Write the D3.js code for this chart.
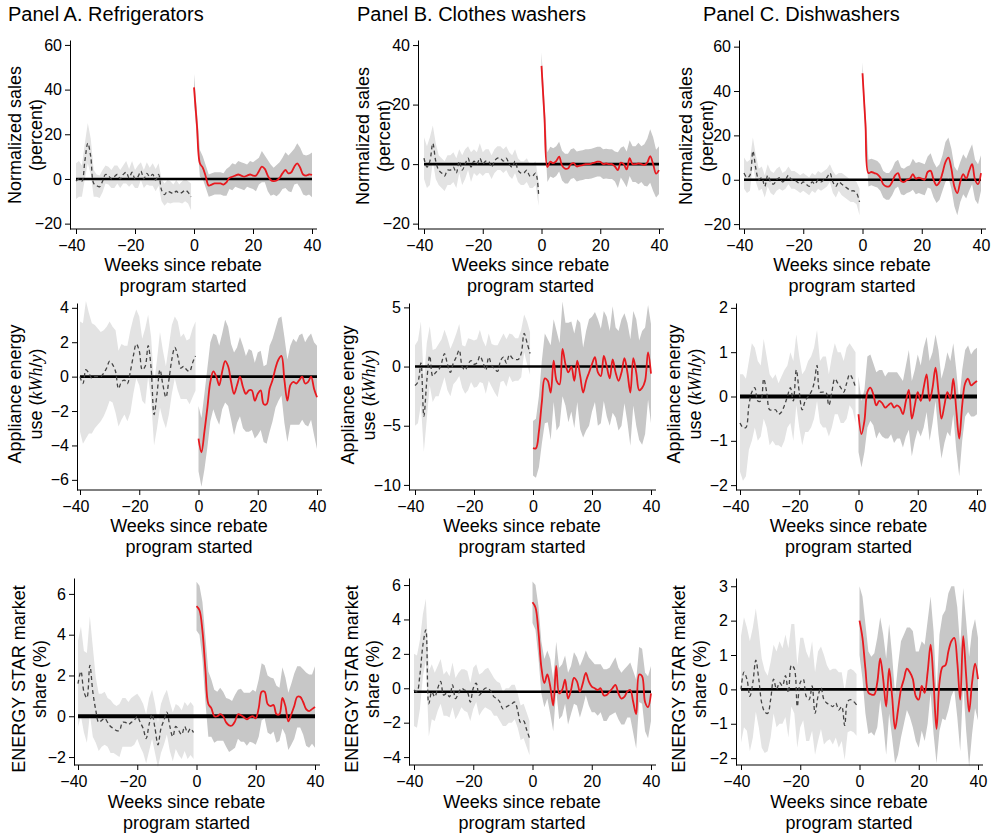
<!DOCTYPE html>
<html><head><meta charset="utf-8">
<script src="https://cdn.jsdelivr.net/npm/d3@7"></script>
<style>
body{margin:0;background:#fff;}
svg{display:block;font-family:"Liberation Sans",Arial,Helvetica,sans-serif;}
</style></head><body>
<svg id="chart" width="992" height="834"></svg>
<script>
// ---------------- DATA ----------------
const panelTitles = ["Panel A. Refrigerators", "Panel B. Clothes washers", "Panel C. Dishwashers"];
const yTitles = [["Normalized sales", "(percent)"], ["Appliance energy", "use"], ["ENERGY STAR market", "share (%)"]];
const xTitle = ["Weeks since rebate", "program started"];
const xTicks = [-40, -20, 0, 20, 40];
const preWeeks = [-40,-39,-38,-37,-36,-35,-34,-33,-32,-31,-30,-29,-28,-27,-26,-25,-24,-23,-22,-21,-20,-19,-18,-17,-16,-15,-14,-13,-12,-11,-10,-9,-8,-7,-6,-5,-4,-3,-2,-1];
const postWeeks = [0,1,2,3,4,5,6,7,8,9,10,11,12,13,14,15,16,17,18,19,20,21,22,23,24,25,26,27,28,29,30,31,32,33,34,35,36,37,38,39,40];

// Row 1: normalized sales (percent)
const salesTicksA = [-20, 0, 20, 40, 60];
const salesTicksB = [-20, 0, 20, 40];
const salesTicksC = [-20, 0, 20, 40, 60];
const salesA_preMean = [-1,0,-1,8,16,10,-2,-3,-3.5,-1, 2,1.5,0,1,2,0,2,3,0.5,3, 0,1,3.5,0,2.5,1,2,-0.5,2,-5, -7,-5.5,-6,-6.5,-5.5,-6.5,-6,-5,-6,-8];
const salesA_preHalf = [8,8,7,8,9,8,6,5,5,5, 4,4,4,5,4,4,4,5,4,5, 4,5,4,4,5,4,5,5,5,5, 5,5,5,4,5,4,5,5,5,6];
const salesA_postMean = [41,24,7,5,1,-3,-2.5,-2,-2,-2, -2.5,-1.5,0.5,1,1.5,2,1.5,1,1.5,2, 1.5,1.5,3.5,5.5,4.5,1.5,-0.5,-1,-0.7,0.5, 2.5,4,2.5,3,5.5,7,5,2,1.5,2,1.8];
const salesA_postHalf = [6,6,6,5,5,5,5,5,5,5, 5,6,5,6,5,6,6,6,5,6, 6,7,6,7,6,7,7,6,7,7, 7,8,8,9,8,9,9,9,9,9,10];
const salesB_preMean = [2,-1,1,7,1,-2,-3,-4,-2,-2, -1,-3,1,-2,0,2,-1,1,0,2, 0,1,1,-1,1,2,2,1,2,0, -1,1,-2,-3,-3,-2,-4,-4,-3,-10];
const salesB_preHalf = [7,7,8,6,6,5,5,5,5,5, 5,5,4,5,5,4,5,4,4,5, 4,4,4,4,4,4,4,4,4,4, 4,4,4,4,4,4,4,4,4,4];
const salesB_postMean = [33,16,-1,0.8,0.3,1,2.5,-0.5,-1.5,-1.5, 0,0.3,-0.8,-0.5,-0.3,0,0,0.2,0.5,0.8, 0.8,0,0.2,0,0,-0.8,-2,0.5,0,-1.8, 2,0,0,0.2,0,-0.3,0.5,2.7,0,-3.2,-2];
const salesB_postHalf = [4.5,5,5,5,5,5,5,5,5,5, 5,5,5,5,5,5,5,5,5,5, 5,5,5,5,5,5,6,5,6,6, 6,6,6,7,6,7,8,9,9,8,8];
const salesC_preMean = [3,1,2,13,5,0,1,-3,2,-1, -2,0,1,-1,0,2,0,0,-1,-2, -1,-2,-3,-1,-2,0,-1,0,1,3, -1,-3,-1,-2,-3,-4,-5,-5,-6,-10];
const salesC_preHalf = [7,7,7,6,6,5,5,5,5,5, 5,5,5,4,4,4,4,4,4,4, 4,4,4,4,4,4,4,4,4,4, 5,5,4,5,5,5,5,5,5,6];
const salesC_postMean = [48,25,3,3.5,3,2.5,1,-2,-3,-3, -1,2,3,-0.5,-1,0,0.5,2.5,0.5,1, 0.5,0,3.5,4,0,-2.5,-1,3,8,10, 5,-3,-6,-1,2.5,0.5,4,7,0,-2,3];
const salesC_postHalf = [5,6,6,6,6,6,6,6,6,6, 6,6,6,6,6,6,6,7,7,7, 7,7,7,8,8,8,8,8,9,9, 9,9,10,9,9,9,9,9,9,9,8];

// Row 2: appliance energy use (kWh/y)
const energyTicksA = [-6, -4, -2, 0, 2, 4];
const energyTicksB = [-10, -5, 0, 5];
const energyTicksC = [-2, -1, 0, 1, 2];
const energyA_preMean = [0,-0.4,0.4,0.2,-0.1,0,0,0,0.2,0.5, 0.9,0.7,0.3,-0.7,-0.3,-0.2,-0.4,0.3,1.2,1.9, 1.5,0.4,0.6,1.8,0.5,-2.2,-1,0.4,-0.5,-1.2, -0.2,1,1.7,1.2,0.5,0.6,0.4,0.3,0.8,1.2];
const energyA_preHalf = [3.2,3.5,4,3.5,3.2,3,2.8,2.6,2.5,2.4, 2.3,2.2,2.4,2.2,2.2,2.0,2.2,2.4,2.2,2.0, 2.0,1.8,2.2,1.8,1.8,1.8,2.0,2.2,2.0,1.8, 2.0,2.0,1.8,2.0,1.8,1.9,1.7,1.9,2.0,2.0];
const energyA_postMean = [-3.6,-4.4,-3.2,-1.8,-0.3,0.3,0,-0.5,0.3,0.9, 0.6,-0.3,-1,-0.5,0,-0.6,-1,-0.8,-0.8,-1.4, -1,-0.8,-1.6,-1.6,-0.7,-0.2,0.5,1.0,1.2,-0.2, -1.4,-0.5,-0.3,-0.4,-0.2,0,-0.4,-0.3,0,-0.7,-1.2];
const energyA_postHalf = [1.9,2.0,2.2,2.3,2.3,2.2,2.4,2.3,2.2,2.4, 2.3,2.2,2.4,2.2,2.3,2.4,2.2,2.4,2.3,2.2, 2.4,2.3,2.2,2.3,2.5,2.4,2.3,2.4,2.3,2.5, 2.4,2.3,2.5,2.4,2.6,2.5,2.4,2.6,2.5,2.7,3.0];
const energyB_preMean = [-1.6,-1.3,0.3,-4.2,-1.2,0.9,-0.8,-0.5,-0.3,0.3, 1.1,0.2,-0.5,0.3,0.8,1.4,0,-0.3,0.2,0.5, 0.2,0.3,0.9,0.4,-0.3,0.8,0.1,-0.2,-0.4,0.5, 0.8,0.3,1.0,0.7,0.6,0.6,1.1,2.8,2.0,1.1];
const energyB_preHalf = [3.4,3.5,3.5,3,3.2,2.5,2.2,2.0,2.2,2.0, 2.0,2.2,2.0,1.8,2.0,2.2,1.8,2.0,2.2,1.8, 2.0,2.0,2.2,1.8,2.0,2.0,1.8,2.0,2.2,1.8, 2.0,2.0,1.8,2.0,1.8,1.8,2.0,1.6,1.8,1.8];
const energyB_postMean = [-6.9,-6.9,-5.5,-3,-1,-1.2,-2.2,0.5,-1.2,-1.5, 1.5,0.2,-0.5,0,-1.2,0.5,-0.8,-2.2,-1.2,-0.5, 0.2,0.8,-0.5,-0.8,0.9,0,-1,0.6,-0.5,-1.2, -0.5,0.7,-0.5,-2.2,0.7,-0.5,-2.0,-1.8,-1.2,1.2,-0.6];
const energyB_postHalf = [2.3,2.5,3,3.5,3.8,3.5,4,3.5,4.2,3.5, 4,3.5,4.2,3.8,4,3.5,4.5,3.8,4.2,4.5, 4,3.8,4.5,4,3.8,4.2,4,4.5,3.8,4.2, 4.5,3.8,4.2,4.5,4,4.5,4.2,4.8,4.5,4,4.2];
const energyC_preMean = [-0.6,-0.7,-0.7,-0.2,0.1,0.2,-0.1,-0.1,0.4,0.1, -0.3,-0.3,-0.3,-0.4,-0.35,-0.2,0,0.2,-0.1,0.6, 0.1,-0.3,-0.1,0,0.1,0.3,0.7,0.1,0.1,0.1, -0.2,0.1,0.4,0.3,0.2,0.1,0.3,0.5,0.4,0.2];
const energyC_preHalf = [1.1,1.2,1.1,1.0,1.1,0.9,0.9,0.8,0.9,0.8, 0.8,0.7,0.8,0.7,0.8,0.8,0.7,0.8,0.9,0.8, 0.8,0.8,0.7,0.8,0.8,0.8,0.8,0.7,0.8,0.8, 0.7,0.8,0.8,0.7,0.8,0.7,0.8,0.7,0.7,0.8];
const energyC_postMean = [-0.4,-0.85,-0.55,0.1,0.2,0.05,-0.2,-0.1,-0.15,-0.25, -0.2,-0.15,-0.25,-0.2,-0.25,-0.4,-0.1,0.15,-0.5,-0.2, 0.1,-0.1,0.2,0.5,-0.1,0.2,0.65,0.1,-0.5,-0.2, 0.1,-0.05,0.4,-0.3,-0.95,-0.2,0.3,0.4,0.25,0.3,0.35];
const energyC_postHalf = [0.85,0.75,0.7,0.8,0.75,0.7,0.75,0.7,0.75,0.7, 0.75,0.7,0.8,0.75,0.7,0.75,0.8,0.9,0.85,0.8, 0.85,0.8,0.9,0.85,0.9,0.8,0.75,0.95,0.9,0.85, 0.9,0.85,0.8,0.9,0.85,0.8,0.75,0.75,0.7,0.75,0.75];

// Row 3: ENERGY STAR market share (%)
const shareTicksA = [-2, 0, 2, 4, 6];
const shareTicksB = [-4, -2, 0, 2, 4, 6];
const shareTicksC = [-2, -1, 0, 1, 2, 3];
const shareA_preMean = [1.6,2.2,1.2,0.9,2.5,1.2,0.3,-0.3,-0.2,-0.1, -0.3,-0.5,-0.6,-0.7,-0.7,-0.3,-0.3,-0.4,-0.3,-0.2, 0,-0.3,-0.6,-1.1,-0.4,0.1,-0.6,-1.4,-0.6,-0.2, 0.2,-0.5,-1.0,-0.5,-0.7,-0.9,-0.5,-0.8,-0.6,-0.8];
const shareA_preHalf = [2.1,2.2,2.0,2.2,2.4,2.2,1.6,1.4,1.3,1.3, 1.2,1.3,1.2,1.2,1.3,1.2,1.2,1.1,1.2,1.2, 1.1,1.2,1.2,1.2,1.3,1.2,1.2,1.1,1.2,1.2, 1.1,1.2,1.2,1.1,1.2,1.2,1.2,1.3,1.3,1.3];
const shareA_postMean = [5.4,5.2,4.2,2.3,0.6,0.4,0,0,0.1,0, -0.3,-0.45,-0.45,-0.25,0.1,0.05,-0.05,-0.15,-0.05,0, -0.1,0.4,1.2,1.2,0.6,0.5,0.55,0.1,0.1,0.9, 0.5,-0.25,0.1,0.5,0.95,0.95,0.7,0.35,0.25,0.35,0.45];
const shareA_postHalf = [1.2,1.2,1.4,1.6,1.6,1.4,1.3,1.2,1.3,1.2, 1.2,1.3,1.2,1.3,1.2,1.3,1.2,1.3,1.2,1.3, 1.3,1.4,1.4,1.3,1.4,1.4,1.3,1.4,1.3,1.5, 1.4,1.4,1.5,1.6,1.5,1.5,1.6,1.8,1.8,1.7,2.0];
const shareB_preMean = [-0.1,-0.2,0.8,2.5,3.4,-0.9,-0.2,-0.5,0,0.4, -0.4,-0.3,-0.5,0.2,-0.6,-0.3,0,-0.1,-0.2,-0.8, 0,0.3,-0.4,-0.2,0,0,-0.2,-0.5,-0.6,-0.8, -1.2,-1.1,-1.0,-0.9,-0.8,-1.3,-2.0,-1.9,-2.4,-2.9];
const shareB_preHalf = [2.1,2.1,2.0,1.8,1.8,1.9,1.6,1.4,1.3,1.3, 1.2,1.3,1.2,1.3,1.2,1.2,1.1,1.2,1.2,1.1, 1.2,1.1,1.2,1.1,1.1,1.2,1.1,1.1,1.0,1.1, 1.0,1.1,1.0,1.1,1.0,1.0,1.0,1.0,1.0,1.0];
const shareB_postMean = [5.0,4.7,3.3,1.2,0.3,0.8,0.1,-1.0,1.3,-0.3, -0.1,0.5,-0.6,-0.1,0.6,0.4,-0.2,0.3,0.9,0.4, 0.1,0,-0.1,0,-0.4,-0.4,-0.2,0,0.2,-0.3, -0.6,-0.5,-0.2,-0.1,-0.8,-1.5,0.8,0.7,-0.8,-1.1,-0.3];
const shareB_postHalf = [1.2,1.3,1.5,1.5,1.4,1.4,1.6,1.5,1.4,1.5, 1.5,1.4,1.5,1.4,1.5,1.4,1.5,1.4,1.3,1.4, 1.5,1.4,1.5,1.4,1.5,1.5,1.4,1.5,1.6,1.5, 1.5,1.6,1.5,1.6,1.8,2.0,1.6,1.6,1.7,1.8,1.6];
const shareC_preMean = [0,0.5,0.3,-0.2,0.2,0.85,0.3,-0.4,-0.65,-0.7, -0.3,0.3,0,0.2,0.1,0.4,-0.1,0.7,0.6,-0.5, 0.2,0.3,-0.2,-0.3,0.1,-0.7,-0.2,0.05,-0.3,-0.4, -0.45,-0.5,-0.4,-0.6,-0.5,-1.05,-0.35,-0.3,-0.35,-0.45];
const shareC_preHalf = [1.55,1.6,1.5,1.6,1.6,1.5,1.4,1.3,1.2,1.1, 1.1,1.0,1.1,1.2,1.1,1.2,1.3,1.2,1.3,1.2, 1.3,1.2,1.3,1.2,1.3,1.2,1.3,1.2,1.3,1.1, 1.0,1.1,1.0,1.1,1.0,1.0,0.9,0.9,0.9,0.9];
const shareC_postMean = [2.0,1.5,0.6,-0.1,-0.15,-0.15,0.2,0.9,0.3,-0.5, 0.6,-0.2,-1.15,-0.6,0,0.3,0.6,0.5,0.3,-0.2, -0.3,0.1,-0.1,0.5,1.3,0.2,-1.15,0.2,0.65,0.7, 1.1,1.4,1.5,0.8,-0.3,1.55,0.4,-0.65,0.2,0.75,0.3];
const shareC_postHalf = [1.0,1.2,1.3,1.2,1.1,1.2,1.3,1.2,1.3,1.4, 1.3,1.2,1.0,1.3,1.4,1.3,1.2,1.3,1.4,1.3, 1.4,1.3,1.4,1.5,1.4,1.5,1.0,1.4,1.5,1.6, 1.7,1.6,1.5,1.6,1.5,1.4,1.6,1.6,1.5,1.3,1.2];

// reference (horizontal) line levels per panel, row-major A1,B1,C1,A2,...
const refLevels = [0, 0, 0, 0, 0, 0, 0, -0.2, 0];

// ---------------- LAYOUT ----------------
const layout = [
  {ax:70,  x0:76,  x1:312, top:40,  bottom:229, yMin:-22.4, yMax:62.2, lx:21,  lcy:135, refW:2.6},
  {ax:418, x0:424, x1:659, top:40,  bottom:229, yMin:-21.8, yMax:41.7, lx:369, lcy:136, refW:2.6},
  {ax:739, x0:744, x1:981, top:40,  bottom:229, yMin:-22.2, yMax:63.0, lx:692, lcy:136, refW:2.6},
  {ax:77,  x0:80,  x1:317, top:303, bottom:490, yMin:-6.59, yMax:4.28, lx:21,  lcy:394, refW:2.6},
  {ax:409, x0:415, x1:651, top:303, bottom:490, yMin:-10.43,yMax:5.37, lx:354, lcy:395, refW:2.6},
  {ax:736, x0:740, x1:977, top:303, bottom:490, yMin:-2.11, yMax:2.11, lx:680, lcy:394, refW:4},
  {ax:74,  x0:78,  x1:315, top:578, bottom:765, yMin:-2.39, yMax:6.78, lx:25,  lcy:679, refW:4},
  {ax:409, x0:414, x1:651, top:578, bottom:765, yMin:-4.46, yMax:6.41, lx:358, lcy:679, refW:2.6},
  {ax:736, x0:741, x1:978, top:578, bottom:765, yMin:-2.2,  yMax:3.24, lx:685, lcy:679, refW:2.6}
];
const rowTitleOffsets = [42, 42, 43];
const lineGap = 21;
const titleFont = 18;
const titleX = [8, 357, 703];

const panelData = [
  [salesA_preMean, salesA_preHalf, salesA_postMean, salesA_postHalf, salesTicksA],
  [salesB_preMean, salesB_preHalf, salesB_postMean, salesB_postHalf, salesTicksB],
  [salesC_preMean, salesC_preHalf, salesC_postMean, salesC_postHalf, salesTicksC],
  [energyA_preMean, energyA_preHalf, energyA_postMean, energyA_postHalf, energyTicksA],
  [energyB_preMean, energyB_preHalf, energyB_postMean, energyB_postHalf, energyTicksB],
  [energyC_preMean, energyC_preHalf, energyC_postMean, energyC_postHalf, energyTicksC],
  [shareA_preMean, shareA_preHalf, shareA_postMean, shareA_postHalf, shareTicksA],
  [shareB_preMean, shareB_preHalf, shareB_postMean, shareB_postHalf, shareTicksB],
  [shareC_preMean, shareC_preHalf, shareC_postMean, shareC_postHalf, shareTicksC]
];

// ---------------- DRAW ----------------
const svg = d3.select("#chart");
svg.append("rect").attr("width", 992).attr("height", 834).attr("fill", "#fff");
const fmt = d3.format("d");

panelTitles.forEach((t, i) => {
  svg.append("text").attr("x", titleX[i]).attr("y", 21)
    .attr("font-size", 20).attr("fill", "#000").text(t);
});

panelData.forEach((pd, k) => {
  const L = layout[k];
  const row = Math.floor(k / 3);
  const [preMean, preHalf, postMean, postHalf, yTicks] = pd;
  const x = d3.scaleLinear().domain([-40, 40]).range([L.x0, L.x1]);
  const y = d3.scaleLinear().domain([L.yMin, L.yMax]).range([L.bottom, L.top]);
  const g = svg.append("g");

  const pre = preWeeks.map((w, i) => ({w, m: preMean[i], h: preHalf[i]}));
  const post = postWeeks.map((w, i) => ({w, m: postMean[i], h: postHalf[i]}));
  const band = d3.area().x(d => x(d.w)).y0(d => y(d.m - d.h)).y1(d => y(d.m + d.h));
  const line = d3.line().x(d => x(d.w)).y(d => y(d.m)).curve(d3.curveCatmullRom.alpha(0.5));

  g.append("path").datum(pre).attr("d", band).attr("fill", "#e3e3e3");
  g.append("path").datum(post).attr("d", band).attr("fill", "#c7c7c7");

  g.append("line").attr("x1", x(-40)).attr("x2", x(40))
    .attr("y1", y(refLevels[k])).attr("y2", y(refLevels[k]))
    .attr("stroke", "#000").attr("stroke-width", L.refW);

  g.append("path").datum(pre).attr("d", line).attr("fill", "none")
    .attr("stroke", "#444").attr("stroke-width", 1.3).attr("stroke-dasharray", "4,3");
  g.append("path").datum(post).attr("d", line).attr("fill", "none")
    .attr("stroke", "#e8191f").attr("stroke-width", 1.8);

  // y axis
  const ya = g.append("g").attr("transform", `translate(${L.ax},0)`)
    .call(d3.axisLeft(y).tickValues(yTicks).tickFormat(fmt).tickSize(5).tickSizeOuter(0).tickPadding(3));
  ya.selectAll("text").attr("font-size", 16).attr("fill", "#000").attr("font-family", null);
  ya.selectAll("line,path").attr("stroke", "#000");

  // x axis
  const xa = g.append("g").attr("transform", `translate(0,${L.bottom})`)
    .call(d3.axisBottom(x).tickValues(xTicks).tickFormat(fmt).tickSize(5).tickPadding(5.5));
  xa.select(".domain").remove();
  xa.selectAll("line").attr("stroke", "#000");
  xa.selectAll("text").attr("font-size", 16).attr("fill", "#000").attr("font-family", null)
    .attr("dx", d => d < 0 ? "-0.29em" : null);
  g.append("line").attr("x1", L.ax).attr("x2", L.x1 + 5)
    .attr("y1", L.bottom).attr("y2", L.bottom).attr("stroke", "#000").attr("stroke-width", 1);

  // x title (one text, two lines)
  const cx = (L.ax + L.x1) / 2 - 8;
  const y1 = L.bottom + rowTitleOffsets[row];
  const xt = g.append("text").attr("x", cx).attr("y", y1)
    .attr("text-anchor", "middle").attr("font-size", titleFont).attr("fill", "#000");
  xt.append("tspan").attr("x", cx).attr("y", y1).text(xTitle[0]);
  xt.append("tspan").attr("x", cx).attr("y", y1 + lineGap).text(xTitle[1]);

  // y title (one rotated text, two lines)
  const yt = yTitles[row];
  const ytx = g.append("text").attr("transform", `translate(${L.lx},${L.lcy}) rotate(-90)`)
    .attr("text-anchor", "middle").attr("font-size", titleFont).attr("fill", "#000");
  ytx.append("tspan").attr("x", 0).attr("y", 0).text(yt[0]);
  const t2 = ytx.append("tspan").attr("x", 0).attr("y", lineGap);
  if (row === 1) {
    t2.append("tspan").text("use (");
    t2.append("tspan").attr("font-family", "'Liberation Serif','DejaVu Serif',serif").attr("font-style", "italic").text("kWh");
    t2.append("tspan").text("/");
    t2.append("tspan").attr("font-family", "'Liberation Serif','DejaVu Serif',serif").attr("font-style", "italic").text("y");
    t2.append("tspan").text(")");
  } else {
    t2.text(yt[1]);
  }
});
</script>
</body></html>
